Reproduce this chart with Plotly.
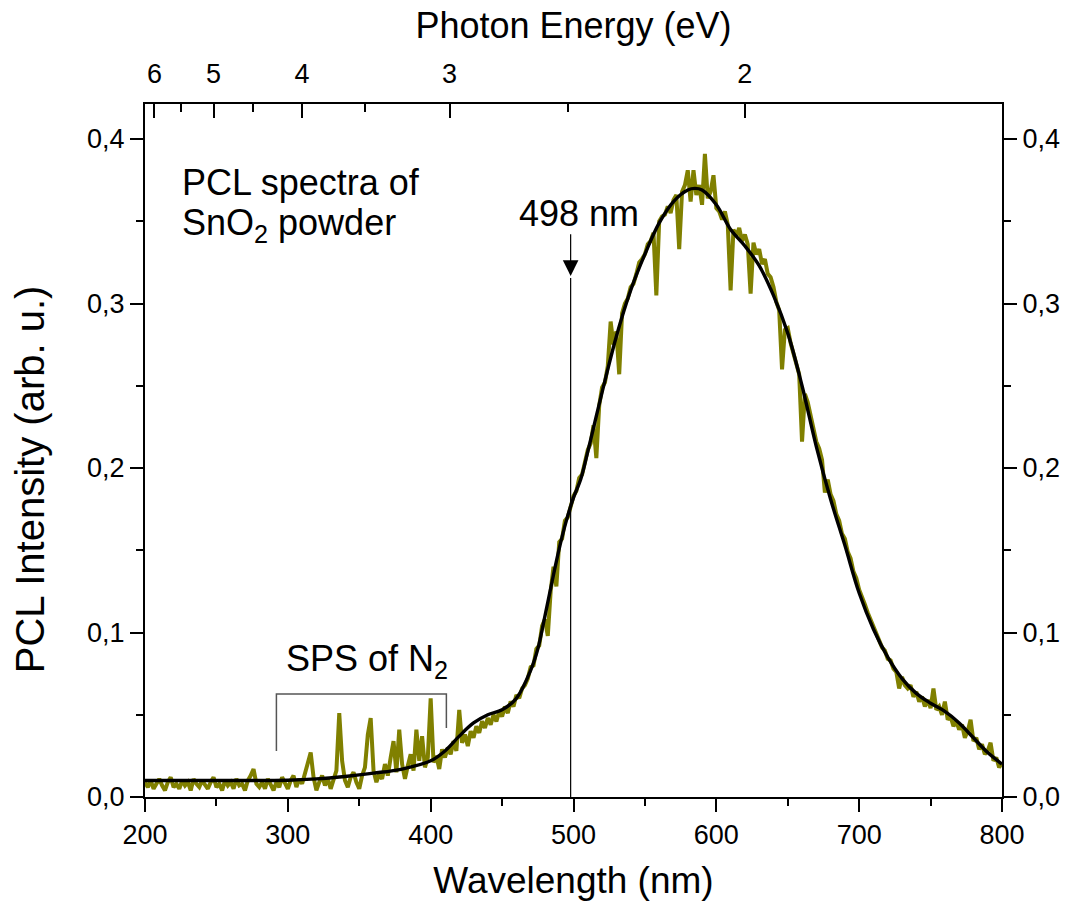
import numpy as np
import plotly.graph_objects as go

# ---------------- data ----------------
wl_start, wl_step = 200, 2
pcl_raw = [
    0.009,0.006,0.010,0.005,0.008,0.011,0.007,0.004,0.009,0.012,
    0.006,0.008,0.005,0.010,0.007,0.009,0.004,0.011,0.008,0.006,
    0.010,0.007,0.005,0.009,0.012,0.006,0.008,0.004,0.010,0.007,
    0.009,0.005,0.011,0.007,0.008,0.004,0.010,0.013,0.017,0.008,
    0.006,0.009,0.005,0.011,0.007,0.004,0.009,0.006,0.012,0.008,
    0.005,0.010,0.013,0.006,0.011,0.008,0.014,0.019,0.027,0.012,
    0.004,0.009,0.013,0.007,0.011,0.005,0.010,0.016,0.051,0.022,
    0.010,0.006,0.012,0.015,0.009,0.005,0.013,0.018,0.038,0.048,
    0.016,0.009,0.014,0.011,0.020,0.013,0.024,0.034,0.015,0.041,
    0.020,0.011,0.019,0.026,0.016,0.041,0.022,0.037,0.018,0.024,
    0.060,0.021,0.025,0.017,0.029,0.024,0.030,0.026,0.034,0.028,
    0.053,0.033,0.038,0.031,0.040,0.036,0.043,0.039,0.046,0.042,
    0.048,0.044,0.050,0.046,0.052,0.049,0.055,0.051,0.058,0.055,
    0.062,0.060,0.066,0.068,0.072,0.079,0.080,0.090,0.092,0.104,
    0.108,0.098,0.125,0.140,0.128,0.155,0.157,0.168,0.170,0.177,
    0.183,0.186,0.194,0.196,0.205,0.211,0.215,0.226,0.206,0.238,
    0.249,0.252,0.262,0.289,0.275,0.283,0.257,0.294,0.300,0.303,
    0.310,0.312,0.318,0.325,0.327,0.330,0.336,0.338,0.343,0.305,
    0.350,0.353,0.354,0.359,0.355,0.363,0.366,0.333,0.368,0.372,
    0.381,0.362,0.381,0.366,0.372,0.360,0.391,0.364,0.368,0.378,
    0.358,0.356,0.351,0.356,0.348,0.308,0.345,0.341,0.346,0.338,
    0.342,0.336,0.306,0.337,0.330,0.333,0.324,0.327,0.318,0.316,
    0.310,0.301,0.296,0.260,0.284,0.285,0.276,0.270,0.262,0.257,
    0.216,0.245,0.240,0.232,0.225,0.216,0.212,0.205,0.185,0.193,
    0.184,0.180,0.172,0.168,0.160,0.157,0.149,0.145,0.137,0.133,
    0.126,0.122,0.117,0.112,0.108,0.103,0.100,0.096,0.091,0.089,
    0.084,0.083,0.078,0.076,0.066,0.073,0.068,0.066,0.068,0.061,
    0.064,0.058,0.061,0.055,0.059,0.054,0.066,0.053,0.055,0.050,
    0.058,0.047,0.049,0.043,0.046,0.041,0.044,0.036,0.040,0.047,
    0.034,0.036,0.029,0.032,0.026,0.028,0.033,0.022,0.024,0.018,
    0.021,
]
wl_raw = wl_start + wl_step * np.arange(len(pcl_raw))

fit_wl = [200,250,300,320,340,360,380,400,410,420,430,440,450,460,470,475,480,485,
          490,495,500,505,510,515,520,530,540,550,560,570,580,585,590,600,610,620,
          630,640,650,660,670,680,690,700,710,720,730,740,750,760,770,780,790,800]
fit_I = [0.0100,0.0100,0.0102,0.011,0.0125,0.0145,0.017,0.022,0.028,0.037,0.045,0.050,
         0.053,0.060,0.077,0.090,0.110,0.131,0.151,0.168,0.182,0.193,0.210,0.228,0.246,
         0.280,0.308,0.330,0.349,0.362,0.369,0.370,0.369,0.360,0.345,0.335,0.323,0.305,
         0.282,0.250,0.213,0.181,0.153,0.124,0.102,0.085,0.072,0.063,0.057,0.052,0.045,
         0.036,0.027,0.020]

y_ticks = [0.0, 0.1, 0.2, 0.3, 0.4]
y_ticklabels = ["0,0", "0,1", "0,2", "0,3", "0,4"]
y_minor = [0.05, 0.15, 0.25, 0.35]
energy_major = [6, 5, 4, 3, 2]
energy_minor = [5.5, 4.5, 3.5, 2.5]
peak_wl = 498
sps_left, sps_right = 292, 411

HC = 1239.84  # eV*nm

FONT = "Liberation Sans, Arial, sans-serif"
OLIVE = "#808000"
yr = [0, 0.4213]

fig = go.Figure()
fig.add_trace(go.Scatter(x=wl_raw, y=pcl_raw, mode="lines",
                         line=dict(color=OLIVE, width=4), showlegend=False))
fig.add_trace(go.Scatter(x=fit_wl, y=fit_I, mode="lines",
                         line=dict(color="black", width=3.4, shape="spline", smoothing=1.0),
                         showlegend=False))
# invisible trace to hold the secondary axes
fig.add_trace(go.Scatter(x=[200, 800], y=[0, 0], xaxis="x2", yaxis="y2", mode="lines",
                         line=dict(width=0), hoverinfo="skip", showlegend=False))

axis_common = dict(showline=True, linecolor="black", linewidth=2, showgrid=False,
                   zeroline=False, tickcolor="black", tickwidth=2,
                   tickfont=dict(family=FONT, size=27, color="black"))

fig.update_layout(
    width=1075, height=911,
    margin=dict(l=145, r=73, t=104, b=114),
    plot_bgcolor="white", paper_bgcolor="white",
    xaxis=dict(range=[200, 800], tickmode="array", tickvals=[200, 300, 400, 500, 600, 700, 800],
               ticks="outside", ticklen=13,
               minor=dict(tickmode="array", tickvals=[250, 350, 450, 550, 650, 750],
                          ticks="outside", ticklen=7, tickwidth=2, tickcolor="black"),
               title=dict(text="Wavelength (nm)", font=dict(family=FONT, size=37, color="black"),
                          standoff=18),
               **axis_common),
    yaxis=dict(range=yr, tickmode="array", tickvals=y_ticks, ticktext=y_ticklabels,
               ticks="outside", ticklen=13,
               minor=dict(tickmode="array", tickvals=y_minor,
                          ticks="outside", ticklen=7, tickwidth=2, tickcolor="black"),
               **axis_common),
    xaxis2=dict(range=[200, 800], overlaying="x", side="top", anchor="y",
                tickmode="array", tickvals=[HC / e for e in energy_major],
                ticktext=[str(e) for e in energy_major],
                ticks="inside", ticklen=14, ticklabelstandoff=8,
                minor=dict(tickmode="array", tickvals=[HC / e for e in energy_minor],
                           ticks="inside", ticklen=8, tickwidth=2, tickcolor="black"),
                title=dict(text="Photon Energy (eV)", font=dict(family=FONT, size=36, color="black"),
                           standoff=10),
                **axis_common),
    yaxis2=dict(range=yr, overlaying="y", side="right", anchor="x",
                tickmode="array", tickvals=y_ticks, ticktext=y_ticklabels,
                ticks="outside", ticklen=13,
                minor=dict(tickmode="array", tickvals=y_minor,
                           ticks="outside", ticklen=7, tickwidth=2, tickcolor="black"),
                **axis_common),
)

# y axis title (placed as rotated annotation)
fig.add_annotation(x=-0.134, y=0.1933, xref="paper", yref="y", textangle=-90,
                   showarrow=False, xanchor="center", yanchor="middle",
                   text="PCL Intensity (arb. u.)",
                   font=dict(family=FONT, size=40, color="black"))

# 498 nm marker line and arrow
fig.add_shape(type="line", x0=peak_wl, x1=peak_wl, y0=0, y1=0.3155, xref="x", yref="y",
              line=dict(color="black", width=1.2))
fig.add_annotation(x=peak_wl, y=0.3168, ax=peak_wl, ay=0.343, xref="x", yref="y",
                   axref="x", ayref="y", showarrow=True, arrowhead=2, arrowsize=2.6,
                   arrowwidth=1.2, arrowcolor="black", text="")
fig.add_annotation(x=peak_wl + 6, y=0.355, xref="x", yref="y", text="498 nm",
                   showarrow=False, yanchor="middle",
                   font=dict(family=FONT, size=36, color="black"))

# text block
fig.add_annotation(x=0.041, y=0.3733, xref="paper", yref="y", xanchor="left", yanchor="middle",
                   align="left", showarrow=False, text="PCL spectra of",
                   font=dict(family=FONT, size=36, color="black"))
fig.add_annotation(x=0.041, y=0.348, xref="paper", yref="y", xanchor="left", yanchor="middle",
                   align="left", showarrow=False, text="SnO<sub>2</sub> powder",
                   font=dict(family=FONT, size=36, color="black"))

# SPS of N2 bracket
fig.add_shape(type="path", xref="x", yref="y",
              path=f"M {sps_left} 0.028 L {sps_left} 0.0626 L {sps_right} 0.0626 L {sps_right} 0.042",
              line=dict(color="#555555", width=1.5))
fig.add_annotation(x=(sps_left + sps_right) / 2 + 4, y=0.0827, xref="x", yref="y",
                   yanchor="middle", showarrow=False, text="SPS of N<sub>2</sub>",
                   font=dict(family=FONT, size=36, color="black"))

fig.write_html("out.html")
